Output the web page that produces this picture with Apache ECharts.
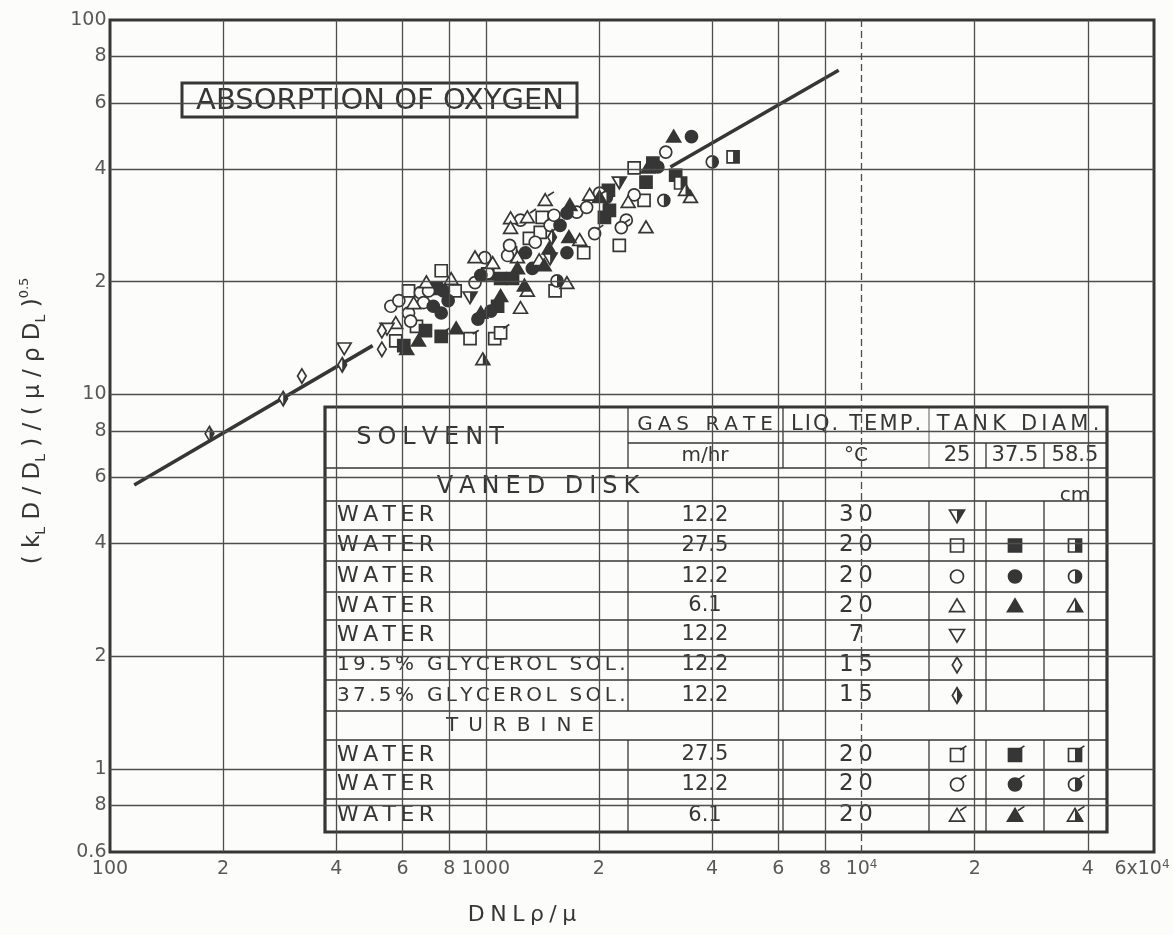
<!DOCTYPE html>
<html>
<head>
<meta charset="utf-8">
<script src="https://cdn.jsdelivr.net/npm/echarts@6/dist/echarts.min.js"></script>
<style>
  html, body { margin: 0; padding: 0; background: #fcfcfa; }
  #chart { width: 1173px; height: 935px; }
</style>
</head>
<body>
<div id="chart"></div>
<script>
// ---------- axis ticks / gridlines ----------
const X_GRID = [200, 400, 600, 800, 1000, 2000, 4000, 6000, 8000, 10000, 20000, 40000];
const Y_GRID = [0.8, 1, 2, 4, 6, 8, 10, 20, 40, 60, 80];
const X_LABEL_VALUES = [100, 200, 400, 600, 800, 1000, 2000, 4000, 6000, 8000, 10000, 20000, 40000, 60000];
const X_LABEL_TEXT = ['100', '2', '4', '6', '8', '1000', '2', '4', '6', '8', '10{s|4}', '2', '4', '6x10{s|4}'];
const Y_LABEL_VALUES = [0.6, 0.8, 1, 2, 4, 6, 8, 10, 20, 40, 60, 80, 100];
const Y_LABEL_TEXT = ['0.6', '8', '1', '2', '4', '6', '8', '10', '2', '4', '6', '8', '100'];

// ---------- correlation line (drawn in two visible pieces) ----------
const fitLow = [[116, 5.73], [500, 13.5]];
const fitHigh = [[3100, 40.5], [8690, 73.4]];

// ---------- measurements: [DNLρ/μ, (kLD/DL)/(μ/ρDL)^0.5] ----------
// Vaned disk
const vdWater12_30C_T25 = [[908, 18.2], [1483, 23.1], [2266, 36.9]];
const vdWater27_T25 = [[576, 13.9], [623, 18.9], [654, 15.2], [761, 21.4], [829, 18.9], [1056, 14.1], [1164, 23.9], [1306, 26.1], [1396, 27.1], [1413, 29.7], [1529, 18.9], [1822, 23.9], [2266, 25.0], [2482, 40.3], [2637, 33.0]];
const vdWater27_T37 = [[605, 13.5], [691, 14.8], [739, 19.2], [1012, 21.0], [1075, 17.2], [1095, 20.4], [1178, 20.4], [2069, 29.7], [2120, 35.1], [2133, 31.0], [2669, 36.9], [2784, 41.5], [3201, 38.5]];
const vdWater27_T58 = [[3299, 36.7], [4550, 43.1]];
const vdWater12_T25 = [[559, 17.2], [587, 17.8], [623, 16.5], [631, 15.7], [670, 18.7], [683, 17.6], [704, 18.9], [936, 19.9], [994, 23.2], [1012, 21.1], [1143, 23.5], [1157, 25.0], [1237, 29.2], [1354, 25.5], [1483, 28.3], [1519, 30.1], [1746, 30.7], [1855, 31.6], [2007, 34.5], [2365, 29.2], [2482, 34.1], [3013, 44.4]];
const vdWater12_T37 = [[725, 17.2], [761, 16.5], [771, 18.9], [794, 17.8], [953, 15.9], [970, 20.8], [1031, 16.7], [1275, 23.9], [1330, 21.7], [1576, 28.3], [1644, 30.5], [1644, 23.9], [2870, 40.5], [3527, 48.8]];
const vdWater12_T58 = [[1547, 20.1], [2094, 33.6], [2977, 33.0], [4005, 41.8]];
const vdWater6_T25 = [[576, 15.5], [643, 17.5], [695, 19.9], [809, 20.3], [936, 23.2], [1043, 22.4], [1164, 29.5], [1164, 27.8], [1214, 23.2], [1237, 17.0], [1290, 18.9], [1387, 22.8], [1644, 19.8], [1778, 25.8], [1890, 34.1], [2393, 32.6], [2669, 27.9], [3505, 33.6]];
const vdWater6_T37 = [[616, 13.2], [662, 13.9], [834, 15.0], [970, 16.5], [1095, 18.3], [1214, 21.7], [1267, 19.5], [1430, 22.1], [1474, 24.5], [1664, 26.3], [1674, 32.0], [2007, 33.6], [2701, 40.3], [3162, 48.8]];
const vdWater6_T58 = [[982, 12.4], [3400, 35.1]];
const vdWater12_7C_T25 = [[420, 13.3], [546, 15.0]];
const vdGly19_T25 = [[324, 11.2], [529, 14.8], [529, 13.2]];
const vdGly37_T25 = [[184, 7.86], [289, 9.75], [415, 12.0], [1501, 26.3]];
// Turbine
const tbWater27_T25 = [[908, 14.1], [1095, 14.6]];
const tbWater27_T37 = [[761, 14.3]];
const tbWater27_T58 = [];
const tbWater12_T25 = [[1948, 26.9], [2294, 27.9]];
const tbWater12_T37 = [];
const tbWater12_T58 = [];
const tbWater6_T25 = [[1290, 29.7], [1439, 33.0]];
const tbWater6_T37 = [];
const tbWater6_T58 = [];

// ---------- key table rows: solvent, gas rate, liquid temp, symbol per tank diameter ----------
const VANED_ROWS = [
  ['WATER', '12.2', '30', ['vdWater12_30C_T25', null, null]],
  ['WATER', '27.5', '20', ['vdWater27_T25', 'vdWater27_T37', 'vdWater27_T58']],
  ['WATER', '12.2', '20', ['vdWater12_T25', 'vdWater12_T37', 'vdWater12_T58']],
  ['WATER', '6.1', '20', ['vdWater6_T25', 'vdWater6_T37', 'vdWater6_T58']],
  ['WATER', '12.2', '7', ['vdWater12_7C_T25', null, null]],
  ['19.5% GLYCEROL SOL.', '12.2', '15', ['vdGly19_T25', null, null]],
  ['37.5% GLYCEROL SOL.', '12.2', '15', ['vdGly37_T25', null, null]]
];
const TURBINE_ROWS = [
  ['WATER', '27.5', '20', ['tbWater27_T25', 'tbWater27_T37', 'tbWater27_T58']],
  ['WATER', '12.2', '20', ['tbWater12_T25', 'tbWater12_T37', 'tbWater12_T58']],
  ['WATER', '6.1', '20', ['tbWater6_T25', 'tbWater6_T37', 'tbWater6_T58']]
];
const TANK_DIAMETERS = ['25', '37.5', '58.5'];

// ---------- marker styles ----------
const SYMBOL_SPECS = {
  vdWater12_30C_T25: { shape: 'invtri', fill: 'half' },
  vdWater27_T25: { shape: 'square', fill: 'open' },
  vdWater27_T37: { shape: 'square', fill: 'solid' },
  vdWater27_T58: { shape: 'square', fill: 'half' },
  vdWater12_T25: { shape: 'circle', fill: 'open' },
  vdWater12_T37: { shape: 'circle', fill: 'solid' },
  vdWater12_T58: { shape: 'circle', fill: 'half' },
  vdWater6_T25: { shape: 'triangle', fill: 'open' },
  vdWater6_T37: { shape: 'triangle', fill: 'solid' },
  vdWater6_T58: { shape: 'triangle', fill: 'half' },
  vdWater12_7C_T25: { shape: 'invtri', fill: 'open' },
  vdGly19_T25: { shape: 'diamond', fill: 'open' },
  vdGly37_T25: { shape: 'diamond', fill: 'half' },
  tbWater27_T25: { shape: 'square', fill: 'open', tick: true },
  tbWater27_T37: { shape: 'square', fill: 'solid', tick: true },
  tbWater27_T58: { shape: 'square', fill: 'half', tick: true },
  tbWater12_T25: { shape: 'circle', fill: 'open', tick: true },
  tbWater12_T37: { shape: 'circle', fill: 'solid', tick: true },
  tbWater12_T58: { shape: 'circle', fill: 'half', tick: true },
  tbWater6_T25: { shape: 'triangle', fill: 'open', tick: true },
  tbWater6_T37: { shape: 'triangle', fill: 'solid', tick: true },
  tbWater6_T58: { shape: 'triangle', fill: 'half', tick: true }
};

const SERIES_DATA = {
  vdWater12_30C_T25, vdWater27_T25, vdWater27_T37, vdWater27_T58,
  vdWater12_T25, vdWater12_T37, vdWater12_T58,
  vdWater6_T25, vdWater6_T37, vdWater6_T58,
  vdWater12_7C_T25, vdGly19_T25, vdGly37_T25,
  tbWater27_T25, tbWater27_T37, tbWater27_T58,
  tbWater12_T25, tbWater12_T37, tbWater12_T58,
  tbWater6_T25, tbWater6_T37, tbWater6_T58
};

const INK = '#363636';
const GRID_INK = '#4e4e4e';
const PAPER = '#fcfcfa';
const FONT = '"DejaVu Sans", "Liberation Sans", sans-serif';

function spread(str, gap) { return Array.from(str).join(gap); }

// Builds the drawn pieces of one marker centred at (cx, cy)
function symbolParts(spec, cx, cy, s) {
  const h = s / 2;
  const parts = [];
  let outline, half = null;
  if (spec.shape === 'square') {
    outline = { type: 'rect', shape: { x: cx - h, y: cy - h, width: s, height: s } };
    half = [[cx, cy - h], [cx + h, cy - h], [cx + h, cy + h], [cx, cy + h]];
  } else if (spec.shape === 'circle') {
    outline = { type: 'circle', shape: { cx: cx, cy: cy, r: h } };
  } else if (spec.shape === 'triangle') {
    const top = cy - h * 1.1, bot = cy + h * 0.85, w = h * 1.15;
    outline = { type: 'polygon', shape: { points: [[cx, top], [cx + w, bot], [cx - w, bot]] } };
    half = [[cx, top], [cx + w, bot], [cx, bot]];
  } else if (spec.shape === 'invtri') {
    const top = cy - h * 0.85, bot = cy + h * 1.1, w = h * 1.15;
    outline = { type: 'polygon', shape: { points: [[cx - w, top], [cx + w, top], [cx, bot]] } };
    half = [[cx, top], [cx + w, top], [cx, bot]];
  } else {
    const v = h * 1.2, w = h * 0.72;
    outline = { type: 'polygon', shape: { points: [[cx, cy - v], [cx + w, cy], [cx, cy + v], [cx - w, cy]] } };
    half = [[cx, cy - v], [cx + w, cy], [cx, cy + v]];
  }
  outline.style = { fill: spec.fill === 'solid' ? INK : PAPER, stroke: INK, lineWidth: 1.7 };
  parts.push(outline);
  if (spec.fill === 'half') {
    if (spec.shape === 'circle') {
      parts.push({ type: 'sector', shape: { cx: cx, cy: cy, r0: 0, r: h, startAngle: -Math.PI / 2, endAngle: Math.PI / 2, clockwise: true }, style: { fill: INK } });
    } else {
      parts.push({ type: 'polygon', shape: { points: half }, style: { fill: INK } });
    }
  }
  if (spec.tick) {
    parts.push({ type: 'line', shape: { x1: cx + h * 0.45, y1: cy - h * 0.75, x2: cx + h * 1.45, y2: cy - h * 1.4 }, style: { stroke: INK, lineWidth: 1.7 } });
  }
  return parts;
}

function txt(text, x, y, size, align, extra) {
  return Object.assign({
    type: 'text', x: x, y: y,
    style: {
      text: text, font: size + 'px ' + FONT, fill: INK,
      align: align || 'center', verticalAlign: 'middle',
      textAlign: align || 'center', textVerticalAlign: 'middle'
    }
  }, extra || {});
}

// ---------- key table ----------
function keyTable() {
  const L = 325, T = 407, R = 1107, B = 832;
  const C = [628, 783, 929, 986, 1044];
  const HM = 443, HB = 468;
  const vanedLines = [501, 530, 561, 592, 620, 650, 680, 711];
  const turbLines = [740, 770, 799, 832];
  const symX = [957, 1015, 1075];
  const els = [];
  const line = (x1, y1, x2, y2, w) => els.push({ type: 'line', shape: { x1, y1, x2, y2 }, style: { stroke: INK, lineWidth: w || 1.3 } });

  els.push({ type: 'rect', shape: { x: L, y: T, width: R - L, height: B - T }, style: { fill: PAPER, stroke: INK, lineWidth: 3.2 } });
  // header rules
  line(C[0], T, C[0], HB); line(C[1], T, C[1], HB); line(C[2], T, C[2], HB, 0.8);
  line(C[3], HM, C[3], HB); line(C[4], HM, C[4], HB);
  line(C[0], HM, R, HM); line(L, HB, R, HB);
  // body rules
  vanedLines.forEach(y => line(L, y, R, y));
  turbLines.slice(0, 3).forEach(y => line(L, y, R, y));
  [[vanedLines[0], vanedLines[vanedLines.length - 1]], [turbLines[0], B]].forEach(([y1, y2]) => {
    C.forEach(x => line(x, y1, x, y2));
  });

  // header text
  els.push(txt(spread('SOLVENT', '\u2005'), 430, 438, 24));
  els.push(txt(spread('GAS RATE', '\u2005'), 705, 425, 20));
  els.push(txt('m/hr', 705, 456, 20));
  els.push(txt(spread('LIQ. TEMP.', '\u200A'), 856, 425, 21));
  els.push(txt('°C', 856, 456, 20));
  els.push(txt(spread('TANK DIAM.', '\u2009'), 1018, 425, 21));
  TANK_DIAMETERS.forEach((d, i) => els.push(txt(d, symX[i], 456, 21)));
  els.push(txt(spread('VANED DISK', '\u2005'), 538, 487, 24));
  els.push(txt('cm', 1075, 496, 20));
  els.push(txt(spread('TURBINE', '\u2002'), 520, 726, 20));

  const rowText = (rows, lines) => {
    rows.forEach((row, i) => {
      const cy = (lines[i] + lines[i + 1]) / 2;
      const isWater = row[0] === 'WATER';
      els.push(txt(isWater ? spread(row[0], '\u2009') : spread(row[0], '\u2006'), 337, cy, isWater ? 22 : 20, 'left'));
      els.push(txt(row[1], 705, cy, 21));
      els.push(txt(spread(row[2], '\u2009'), 856, cy, 23));
      row[3].forEach((key, j) => {
        if (key) symbolParts(SYMBOL_SPECS[key], symX[j], cy, 13).forEach(p => els.push(p));
      });
    });
  };
  rowText(VANED_ROWS, vanedLines);
  rowText(TURBINE_ROWS, turbLines);
  return { type: 'group', z: 50, children: els };
}

// ---------- gridlines as mark lines on the value scales ----------
const gridMarks = [];
X_GRID.forEach(v => gridMarks.push({ xAxis: v, lineStyle: v === 10000 ? { type: [7, 4] } : {} }));
Y_GRID.forEach(v => gridMarks.push({ yAxis: v }));

// ---------- tick labels placed through the same scales ----------
const LABEL_BASE = { show: true, color: '#2e2e2e', fontSize: 19, fontFamily: FONT, lineHeight: 22,
  rich: { s: { fontSize: 12, fontFamily: FONT, color: '#2e2e2e', verticalAlign: 'top', lineHeight: 12 } } };
const xLabelSeries = {
  type: 'scatter', name: 'x-ticks', silent: true, z: 4, symbolSize: 1, clip: false,
  itemStyle: { color: 'rgba(0,0,0,0)' },
  data: X_LABEL_VALUES.map((v, i) => ({
    value: [v, 0.6],
    label: { formatter: X_LABEL_TEXT[i], offset: v === 60000 ? [-12, 0] : [0, 0] }
  })),
  label: Object.assign({ position: 'bottom', distance: 6 }, LABEL_BASE)
};
const yLabelSeries = {
  type: 'scatter', name: 'y-ticks', silent: true, z: 4, symbolSize: 1, clip: false,
  itemStyle: { color: 'rgba(0,0,0,0)' },
  data: Y_LABEL_VALUES.map((v, i) => ({ value: [100, v], label: { formatter: Y_LABEL_TEXT[i] } })),
  label: Object.assign({ position: 'left', distance: 3 }, LABEL_BASE)
};

const markerSeries = Object.keys(SERIES_DATA)
  .filter(k => SERIES_DATA[k].length)
  .map(key => ({
    type: 'custom', name: key, coordinateSystem: 'cartesian2d', z: 3,
    data: SERIES_DATA[key], encode: { x: 0, y: 1 },
    renderItem: (params, api) => {
      const p = api.coord([api.value(0), api.value(1)]);
      return { type: 'group', children: symbolParts(SYMBOL_SPECS[key], p[0], p[1], 12) };
    }
  }));

const fitStyle = { color: INK, width: 3.6 };

const option = {
  backgroundColor: PAPER,
  animation: false,
  grid: { left: 110, right: 19, top: 20, bottom: 83, show: true, borderColor: INK, borderWidth: 3, backgroundColor: 'transparent', outerBoundsMode: 'none' },
  xAxis: { type: 'log', logBase: 10, min: 100, max: 60000,
    axisLine: { show: false }, axisTick: { show: false }, axisLabel: { show: false }, splitLine: { show: false } },
  yAxis: { type: 'log', logBase: 10, min: 0.6, max: 100,
    axisLine: { show: false }, axisTick: { show: false }, axisLabel: { show: false }, splitLine: { show: false } },
  graphic: [
    keyTable(),
    { type: 'group', z: 50, children: [
      { type: 'rect', shape: { x: 182, y: 83, width: 395, height: 34 }, style: { fill: PAPER, stroke: INK, lineWidth: 3 } },
      txt('ABSORPTION OF OXYGEN', 380, 101, 29)
    ] },
    txt(spread('DNLρ/μ', '\u2005'), 522, 915, 22),
    {
      type: 'text', x: 33, y: 421, rotation: Math.PI / 2,
      style: {
        text: '( k{l|L} D / D{l|L} ) / ( μ / ρ D{l|L} ){p|0.5}',
        font: '23px ' + FONT, fill: INK,
        align: 'center', verticalAlign: 'middle', textAlign: 'center', textVerticalAlign: 'middle',
        rich: {
          l: { fontSize: 14, fontFamily: FONT, fill: INK, color: INK, verticalAlign: 'bottom', lineHeight: 30 },
          p: { fontSize: 13, fontFamily: FONT, fill: INK, color: INK, verticalAlign: 'top', lineHeight: 30 }
        }
      }
    }
  ],
  series: [
    {
      type: 'line', name: 'fit-low', data: fitLow, showSymbol: false, z: 1,
      lineStyle: fitStyle, silent: true,
      markLine: {
        silent: true, symbol: ['none', 'none'], animation: false,
        lineStyle: { color: GRID_INK, width: 1.3, type: 'solid' },
        label: { show: false },
        data: gridMarks
      }
    },
    { type: 'line', name: 'fit-high', data: fitHigh, showSymbol: false, z: 1, lineStyle: fitStyle, silent: true },
    xLabelSeries,
    yLabelSeries
  ].concat(markerSeries)
};

const chart = echarts.init(document.getElementById('chart'), null, { renderer: 'canvas', width: 1173, height: 935 });
chart.setOption(option);
</script>
</body>
</html>
